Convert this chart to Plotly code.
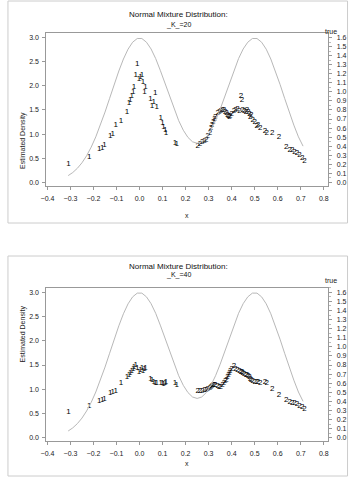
import plotly.graph_objects as go

# ---- true density curve (right "true" axis) ----
curve_x = [-0.31, -0.29, -0.27, -0.25, -0.23, -0.21, -0.19, -0.17, -0.15, -0.13,
           -0.11, -0.09, -0.07, -0.05, -0.03, -0.01, 0.01, 0.03, 0.05, 0.07,
           0.09, 0.11, 0.13, 0.15, 0.17, 0.19, 0.21, 0.23, 0.25, 0.27,
           0.29, 0.31, 0.33, 0.35, 0.37, 0.39, 0.41, 0.43, 0.45, 0.47,
           0.49, 0.51, 0.53, 0.55, 0.57, 0.59, 0.61, 0.63, 0.65, 0.67,
           0.69, 0.71]
curve_true = [0.074, 0.108, 0.155, 0.216, 0.294, 0.389, 0.503, 0.633, 0.777, 0.929,
              1.084, 1.231, 1.364, 1.473, 1.550, 1.591, 1.591, 1.550, 1.475, 1.369,
              1.239, 1.096, 0.949, 0.808, 0.682, 0.576, 0.497, 0.448, 0.432, 0.448,
              0.497, 0.576, 0.682, 0.808, 0.949, 1.096, 1.239, 1.369, 1.475, 1.550,
              1.591, 1.591, 1.550, 1.473, 1.364, 1.231, 1.084, 0.929, 0.777, 0.633,
              0.503, 0.400]

# ---- cluster 1 observations ----
x1 = [-0.309, -0.219, -0.175, -0.162, -0.152, -0.127, -0.117, -0.104, -0.081, -0.055,
      -0.046, -0.041, -0.034, -0.027, -0.024, -0.017, -0.010, -0.003, 0.004, 0.011,
      0.015, 0.021, 0.026, 0.047, 0.054, 0.061, 0.068, 0.075, 0.092, 0.099,
      0.104, 0.111, 0.115, 0.154, 0.161]
y1_k20 = [0.37, 0.53, 0.69, 0.71, 0.77, 0.96, 1.00, 1.19, 1.27, 1.46,
          1.65, 1.71, 1.78, 1.88, 1.97, 2.23, 2.45, 2.14, 2.18, 2.23,
          2.09, 1.88, 1.98, 1.72, 1.58, 1.67, 1.85, 1.56, 1.33, 1.22,
          1.15, 1.09, 1.02, 0.81, 0.79]
y1_k40 = [0.52, 0.65, 0.76, 0.78, 0.79, 0.93, 0.95, 0.97, 1.12, 1.25,
          1.30, 1.33, 1.38, 1.42, 1.46, 1.50, 1.43, 1.36, 1.40, 1.43,
          1.38, 1.42, 1.43, 1.22, 1.18, 1.15, 1.12, 1.12, 1.12, 1.12,
          1.10, 1.13, 1.15, 1.12, 1.09]

# ---- cluster 2 observations ----
x2 = [0.253, 0.262, 0.272, 0.282, 0.289, 0.296, 0.306, 0.310, 0.314, 0.320,
      0.325, 0.329, 0.339, 0.346, 0.353, 0.360, 0.367, 0.372, 0.377, 0.382,
      0.386, 0.390, 0.394, 0.400, 0.410, 0.417, 0.425, 0.434, 0.440, 0.445,
      0.448, 0.455, 0.462, 0.467, 0.472, 0.477, 0.481, 0.485, 0.492, 0.500,
      0.509, 0.514, 0.524, 0.545, 0.552, 0.576, 0.606, 0.637, 0.652, 0.663,
      0.673, 0.684, 0.694, 0.706, 0.716]
y2_k20 = [0.76, 0.80, 0.84, 0.86, 0.88, 0.95, 1.03, 1.12, 1.19, 1.26,
          1.31, 1.36, 1.43, 1.46, 1.48, 1.50, 1.49, 1.46, 1.43, 1.40,
          1.38, 1.36, 1.38, 1.42, 1.47, 1.50, 1.52, 1.48, 1.78, 1.71,
          1.50, 1.48, 1.45, 1.50, 1.46, 1.42, 1.36, 1.39, 1.30, 1.25,
          1.17, 1.19, 1.12, 1.07, 1.03, 1.03, 0.93, 0.74, 0.68, 0.66,
          0.62, 0.60, 0.57, 0.50, 0.45]
y2_k40 = [0.97, 0.97, 0.97, 0.98, 0.99, 1.00, 1.03, 1.04, 1.06, 1.08,
          1.09, 1.08, 1.07, 1.05, 1.04, 1.08, 1.12, 1.16, 1.20, 1.25,
          1.29, 1.33, 1.38, 1.42, 1.48, 1.41, 1.40, 1.38, 1.36, 1.35,
          1.34, 1.31, 1.30, 1.29, 1.27, 1.25, 1.22, 1.19, 1.17, 1.15,
          1.15, 1.15, 1.13, 1.15, 1.12, 1.00, 0.88, 0.78, 0.74, 0.72,
          0.71, 0.69, 0.66, 0.63, 0.59]

panels = ["20", "40"]
x_ticks = [-0.4, -0.3, -0.2, -0.1, 0.0, 0.1, 0.2, 0.3, 0.4, 0.5, 0.6, 0.7, 0.8]

FONT = "Liberation Sans"
W, H = 350, 478
RATIO = 3.0 / 1.6

fig = go.Figure()

panel_cfg = [
    dict(xa="x", ya="y", ta="y3", dom=[1 - 186.0 / H, 1 - 33.3 / H], yr=[-0.077, 3.091],
         y1=y1_k20, y2=y2_k20, box=[1, 223], t1=7.5, t2=18.5, tt=26, xt=215),
    dict(xa="x2", ya="y2", ta="y4", dom=[1 - 440.7 / H, 1 - 287.7 / H], yr=[-0.062, 3.095],
         y1=y1_k40, y2=y2_k40, box=[256, 476], t1=266, t2=275, tt=280.5, xt=469),
]

for i, p in enumerate(panel_cfg):
    fig.add_trace(go.Scatter(x=curve_x, y=curve_true, mode="lines",
                             line=dict(color="#b8b8b8", width=1),
                             xaxis=p["xa"], yaxis=p["ta"], hoverinfo="skip", showlegend=False))
    fig.add_trace(go.Scatter(x=x1, y=p["y1"], mode="text", text=["1"] * len(x1),
                             textfont=dict(family=FONT, size=8, color="#000000"),
                             xaxis=p["xa"], yaxis=p["ya"], hoverinfo="skip", showlegend=False))
    fig.add_trace(go.Scatter(x=x2, y=p["y2"], mode="text", text=["2"] * len(x2),
                             textfont=dict(family=FONT, size=8, color="#000000"),
                             xaxis=p["xa"], yaxis=p["ya"], hoverinfo="skip", showlegend=False))

axis_common = dict(showgrid=False, zeroline=False, showline=True, linecolor="#999",
                   linewidth=1, ticks="outside", ticklen=3, tickcolor="#999",
                   tickfont=dict(family=FONT, size=7, color="#222"))

layout = dict(width=W, height=H, margin=dict(l=0, r=0, t=0, b=0),
              paper_bgcolor="white", plot_bgcolor="white", showlegend=False)

xdom = [41.0 / W, 328.0 / W]
for i, p in enumerate(panel_cfg):
    xk = "xaxis" if i == 0 else "xaxis2"
    yk = "yaxis" if i == 0 else "yaxis2"
    tk = "yaxis3" if i == 0 else "yaxis4"
    layout[xk] = dict(axis_common, domain=xdom, anchor=p["ya"], range=[-0.405, 0.82],
                      tickvals=x_ticks, tickformat=".1f", mirror=True,
                      ticklabelstandoff=3)
    layout[yk] = dict(axis_common, domain=p["dom"], anchor=p["xa"], range=p["yr"],
                      tick0=0, dtick=0.5, tickformat=".1f", mirror=True,
                      ticklabelstandoff=2)
    layout[tk] = dict(axis_common, overlaying=p["ya"], anchor=p["xa"], side="right",
                      range=[p["yr"][0] / RATIO, p["yr"][1] / RATIO],
                      tick0=0, dtick=0.1, tickformat=".1f", ticklabelstandoff=3,
                      minor=dict(dtick=0.05, ticklen=1.5, ticks="outside", tickcolor="#bbb"))

fig.update_layout(**layout)

ann = []
shapes = []
for i, p in enumerate(panel_cfg):
    ann.append(dict(text="Normal Mixture Distribution:", x=0.5, y=1 - p["t1"] / H,
                    xref="paper", yref="paper", showarrow=False,
                    font=dict(family=FONT, size=8, color="#111")))
    ann.append(dict(text="_K_=" + panels[i], x=0.5, y=1 - p["t2"] / H,
                    xref="paper", yref="paper", showarrow=False,
                    font=dict(family=FONT, size=7, color="#111")))
    ann.append(dict(text="true", x=339.0 / W, y=1 - p["tt"] / H,
                    xref="paper", yref="paper", showarrow=False,
                    font=dict(family=FONT, size=7, color="#222")))
    ann.append(dict(text="x", x=184.0 / W, y=1 - p["xt"] / H,
                    xref="paper", yref="paper", showarrow=False,
                    font=dict(family=FONT, size=7, color="#222")))
    ann.append(dict(text="Estimated Density", x=11.0 / W, y=sum(p["dom"]) / 2,
                    xref="paper", yref="paper", showarrow=False, textangle=-90,
                    font=dict(family=FONT, size=7, color="#222")))
    shapes.append(dict(type="rect", xref="paper", yref="paper",
                       x0=2.0 / W, x1=347.5 / W, y0=1 - p["box"][1] / H, y1=1 - p["box"][0] / H,
                       line=dict(color="#cccccc", width=1)))

fig.update_layout(annotations=ann, shapes=shapes)
fig.write_html("out.html")
